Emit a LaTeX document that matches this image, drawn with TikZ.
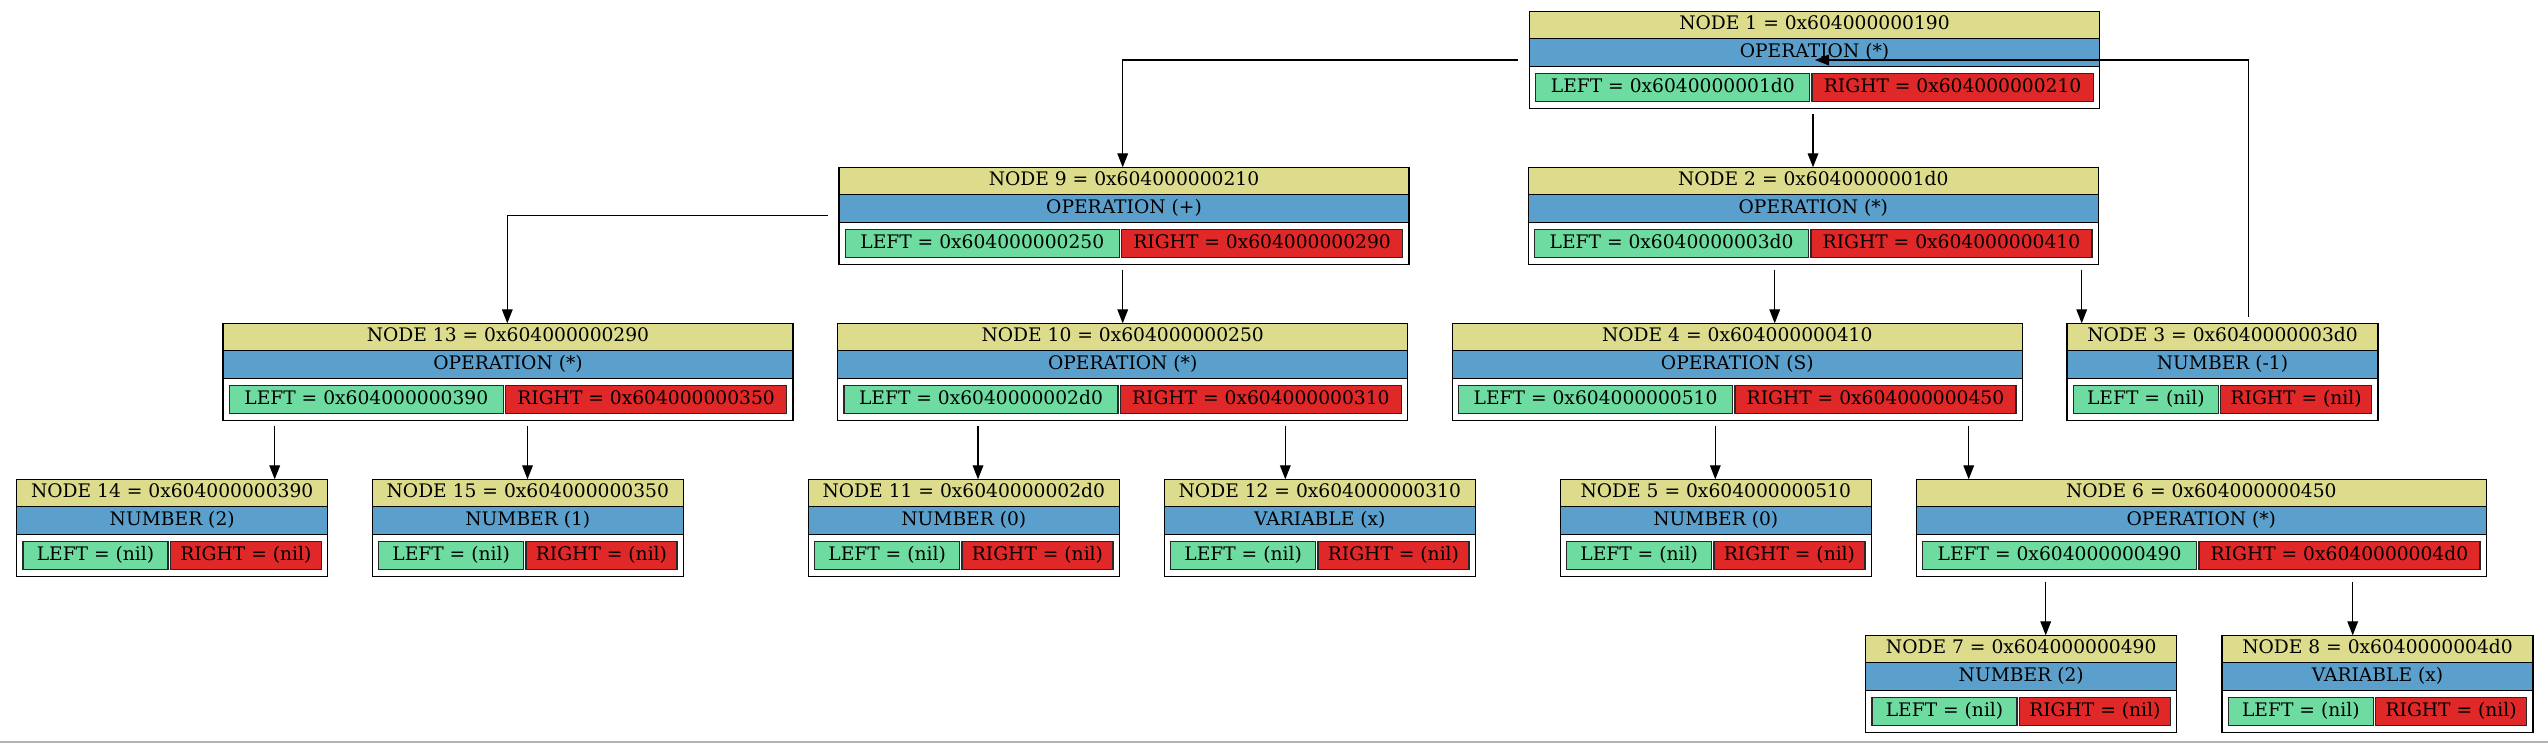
\documentclass[tikz,border=0pt]{standalone}
\usepackage{fontspec}
\setmainfont{DejaVu Serif}
\usetikzlibrary{calc,fit,arrows.meta}
\definecolor{hdrc}{RGB}{220,220,140}
\definecolor{oprc}{RGB}{91,160,205}
\definecolor{lcc}{RGB}{110,220,160}
\definecolor{rcc}{RGB}{225,40,40}
\definecolor{cellb}{RGB}{40,40,40}
\tikzset{
 row/.style={draw=black, line width=1bp, anchor=north west, inner sep=0pt, outer sep=0pt,
   text height=10.6bp, text depth=3.4bp, font=\fontsize{14bp}{16bp}\selectfont},
 hdr/.style={row, fill=hdrc, minimum height=20.625bp},
 opr/.style={row, fill=oprc, minimum height=21bp},
 ptr/.style={row, fill=white, minimum height=31.4bp},
 cellL/.style={row, draw=cellb, fill=lcc, minimum height=21bp},
 cellR/.style={row, draw=cellb, fill=rcc, minimum height=21bp},
 rec/.style={draw=black, line width=1bp, inner sep=0pt, outer sep=0pt, minimum size=0pt},
 edge/.style={draw=black, line width=1bp, -{Triangle[length=10.5bp,width=8bp]}},
}
\newcommand\widerec[6]{%
 \node[hdr, minimum width=427.5bp] (#1h) at (#2) {#3};
 \node[opr, minimum width=427.5bp] (#1o) at (#1h.south west) {#4};
 \node[ptr, minimum width=427.5bp] (#1p) at (#1o.south west) {};
 \node[cellL, minimum width=205.5bp] (#1l) at ($(#1p.north west)+(6.3,7)$) {#5};
 \node[cellR, minimum width=210.8bp] (#1r) at ($(#1l.north east)+(2.3,0)$) {#6};
 \node[rec, fit=(#1h)(#1p)] (#1) {};
}
\newcommand\nilrec[4]{%
 \node[hdr, minimum width=233.25bp] (#1h) at (#2) {#3};
 \node[opr, minimum width=233.25bp] (#1o) at (#1h.south west) {#4};
 \node[ptr, minimum width=233.25bp] (#1p) at (#1o.south west) {};
 \node[cellL, minimum width=108.75bp] (#1l) at ($(#1p.north west)+(6.3,7)$) {LEFT = (nil)};
 \node[cellR, minimum width=113.3bp] (#1r) at ($(#1l.north east)+(2.3,0)$) {RIGHT = (nil)};
 \node[rec, fit=(#1h)(#1p)] (#1) {};
}
\begin{document}
\begin{tikzpicture}[x=0.75bp,y=-0.75bp]
\useasboundingbox (0,0) rectangle (2548,743);
\draw[black!30, line width=1.5bp] (0,741.8) -- (2548,741.8);

\widerec{n1}{1529.5,11.3}{NODE 1 = 0x604000000190}{OPERATION (*)}{LEFT = 0x6040000001d0}{RIGHT = 0x604000000210}
\widerec{n9}{839,167.3}{NODE 9 = 0x604000000210}{OPERATION (+)}{LEFT = 0x604000000250}{RIGHT = 0x604000000290}
\widerec{n2}{1528.3,167.3}{NODE 2 = 0x6040000001d0}{OPERATION (*)}{LEFT = 0x6040000003d0}{RIGHT = 0x604000000410}
\widerec{n13}{223,323.3}{NODE 13 = 0x604000000290}{OPERATION (*)}{LEFT = 0x604000000390}{RIGHT = 0x604000000350}
\widerec{n10}{837.7,323.3}{NODE 10 = 0x604000000250}{OPERATION (*)}{LEFT = 0x6040000002d0}{RIGHT = 0x604000000310}
\widerec{n4}{1452.3,323.3}{NODE 4 = 0x604000000410}{OPERATION (S)}{LEFT = 0x604000000510}{RIGHT = 0x604000000450}
\nilrec{n3}{2067,323.3}{NODE 3 = 0x6040000003d0}{NUMBER (-1)}
\nilrec{n14}{16.7,479.3}{NODE 14 = 0x604000000390}{NUMBER (2)}
\nilrec{n15}{372.3,479.3}{NODE 15 = 0x604000000350}{NUMBER (1)}
\nilrec{n11}{808.3,479.3}{NODE 11 = 0x6040000002d0}{NUMBER (0)}
\nilrec{n12}{1164.3,479.3}{NODE 12 = 0x604000000310}{VARIABLE (x)}
\nilrec{n5}{1560.3,479.3}{NODE 5 = 0x604000000510}{NUMBER (0)}
\widerec{n6}{1916.3,479.3}{NODE 6 = 0x604000000450}{OPERATION (*)}{LEFT = 0x604000000490}{RIGHT = 0x6040000004d0}
\nilrec{n7}{1865.7,635.3}{NODE 7 = 0x604000000490}{NUMBER (2)}
\nilrec{n8}{2222,635.3}{NODE 8 = 0x6040000004d0}{VARIABLE (x)}

% straight parent -> child edges
\foreach \p/\c/\o in {n1/n2/283.5, n9/n10/283.7, n2/n4/246.4, n2/n3/553.4,
  n13/n14/51.7, n13/n15/304.5, n10/n11/140.3, n10/n12/447.6,
  n4/n5/263, n4/n6/516.4, n6/n7/129.4, n6/n8/436.4}{
  \coordinate (s\c) at ($(\p.south west)+(\o,5.3)$);
  \draw[edge] (s\c) -- (s\c |- \c.north);
}
% elbow edges
\coordinate (s19) at ($(n1.north west)+(-11.5,48.7)$);
\coordinate (t19) at ($(n9.north west)+(283.7,0)$);
\draw[edge] (s19) -| (t19);
\coordinate (s913) at ($(n9.north west)+(-11.3,48.4)$);
\coordinate (t913) at ($(n13.north west)+(284.3,0)$);
\draw[edge] (s913) -| (t913);
\coordinate (s31) at ($(n3.north west)+(181.7,-6.5)$);
\coordinate (t31) at ($(n1.north west)+(285.5,48.7)$);
\draw[edge] (s31) |- (t31);
\end{tikzpicture}
\end{document}
